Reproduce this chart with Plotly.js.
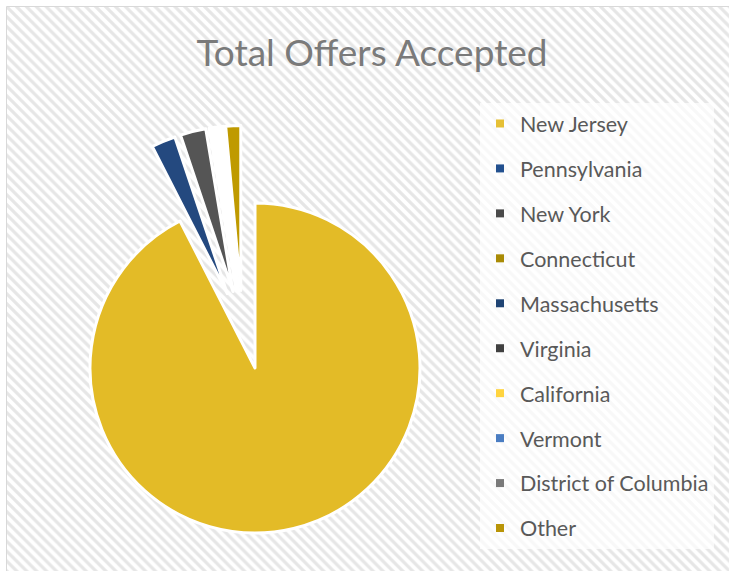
<!DOCTYPE html>
<html><head><meta charset="utf-8">
<script src="https://cdn.plot.ly/plotly-3.0.1.min.js"></script>
<style>html,body{margin:0;padding:0;background:#fff}#chart{width:729px;height:571px}</style>
</head><body><div id="chart"></div>
<script>
// ---- data ----
const states = ['New Jersey','Pennsylvania','New York','Connecticut','Massachusetts','Virginia','California','Vermont','District of Columbia','Other'];
const offersAccepted = [1330, 34, 36, 4, 3, 3, 3, 2, 2, 21];
const stateColors = ['#E3BB27','#24497F','#555555','#A88A00','#1E3F70','#3C3C3C','#FFD54A','#4A7CC0','#7F7F7F','#BF9A00'];
const legendColors = ['#E6C035','#22508F','#4A4A4A','#A98B05','#1F4474','#404040','#FFD43F','#4A7DC2','#7A7A7A','#B99508'];
const chartTitle = 'Total Offers Accepted';

const CLEAR = 'rgba(0,0,0,0)';
const W = 729, H = 571;
const px = v => v / W, py = v => 1 - v / H;

// main (non-exploded) slice: New Jersey only
const mainColors = stateColors.map((c, i) => i === 0 ? c : CLEAR);
const mainLines = stateColors.map((c, i) => i === 0 ? '#ffffff' : CLEAR);
// exploded small slices
const expColors = stateColors.map((c, i) => i === 0 ? CLEAR : c);
const expLines = stateColors.map((c, i) => i === 0 ? CLEAR : '#ffffff');
const expPull = states.map((s, i) => i === 0 ? 0 : 0.24);

const common = {type: 'pie', labels: states, values: offersAccepted, sort: false,
  direction: 'clockwise', rotation: 0, textinfo: 'none', hoverinfo: 'skip', showlegend: false};

const traces = [
  // decorative hatched chart-area background
  {type: 'bar', x: [0.5], y: [1], width: [1], base: [0], hoverinfo: 'skip', showlegend: false,
   marker: {color: '#ffffff', line: {width: 0},
            pattern: {shape: '\\', fgcolor: '#e6e6e6', bgcolor: '#ffffff', size: 7, solidity: 0.45}}},
  Object.assign({}, common, {
    domain: {x: [px(90), px(420)], y: [py(533), py(203)]},
    marker: {colors: mainColors, line: {color: mainLines, width: 3}}}),
  Object.assign({}, common, {
    domain: {x: [px(38), px(447.2)], y: [py(534.6), py(125.4)]},
    pull: expPull,
    marker: {colors: expColors, line: {color: expLines, width: 3}}})
].concat(states.map((s, i) => ({
  // legend entries (one per state)
  type: 'scatter', mode: 'markers', x: [null], y: [null], name: s, legendgroup: s,
  showlegend: true, hoverinfo: 'skip',
  marker: {symbol: 'square', size: 8, color: legendColors[i], line: {width: 0}}
})));

const layout = {
  width: W, height: H,
  margin: {l: 0, r: 0, t: 0, b: 0},
  paper_bgcolor: '#ffffff', plot_bgcolor: 'rgba(0,0,0,0)',
  xaxis: {domain: [px(7), 1], range: [0, 1], visible: false, fixedrange: true},
  yaxis: {domain: [0, py(7)], range: [0, 1], visible: false, fixedrange: true},
  title: {text: chartTitle, x: px(372), xanchor: 'center', xref: 'paper',
          y: py(53), yanchor: 'middle', yref: 'paper',
          font: {family: 'Lato', size: 37, weight: 400, color: '#7a7a7a'}},
  showlegend: true,
  legend: {x: px(480), xanchor: 'left', y: py(103), yanchor: 'top',
           bgcolor: 'rgba(255,255,255,0.7)', borderwidth: 0,
           traceorder: 'grouped', tracegroupgap: 14,
           font: {family: 'Lato', size: 21.5, color: '#595959'}},
  shapes: [
    {type: 'line', xref: 'paper', yref: 'paper', x0: px(6.5), x1: 1, y0: py(6.5), y1: py(6.5), line: {color: '#d9d9d9', width: 1}},
    {type: 'line', xref: 'paper', yref: 'paper', x0: px(6.5), x1: px(6.5), y0: 0, y1: py(6.5), line: {color: '#d9d9d9', width: 1}}
  ],
  hovermode: false
};

Plotly.newPlot('chart', traces, layout, {staticPlot: true, displayModeBar: false});
</script></body></html>
